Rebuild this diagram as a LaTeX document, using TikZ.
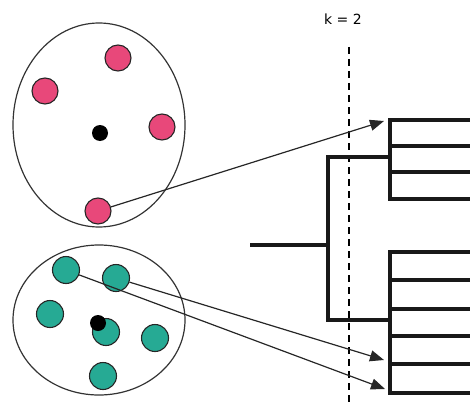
\documentclass[tikz,border=0pt]{standalone}
\usepackage{fontspec}
\setsansfont{DejaVu Sans}
\usepackage{xcolor}
\usetikzlibrary{positioning, arrows.meta}
\definecolor{DotPink}{RGB}{232,72,122}
\definecolor{DotTeal}{RGB}{38,170,148}
\tikzset{
  cluster/.style={draw=black!80, line width=1.2pt},
  pdot/.style={circle, draw=black!85, line width=1.1pt, fill=DotPink, minimum size=26pt, inner sep=0pt},
  tdot/.style={pdot, fill=DotTeal, minimum size=27pt},
  cdot/.style={circle, fill=black, minimum size=16pt, inner sep=0pt},
  maparr/.style={-{Triangle[length=14pt,width=11pt]}, line width=1.2pt, black!85},
  dendro/.style={line width=4pt, black!90, line cap=rect},
  cutline/.style={line width=2.5pt, dash pattern=on 7pt off 5pt},
}

\begin{document}
\begin{tikzpicture}[x=1pt, y=-1pt]
  \useasboundingbox (0,0) rectangle (470,401);
  % clusters
  \draw[cluster] (99,125) ellipse [x radius=86, y radius=102];
  \draw[cluster] (99,320) ellipse [x radius=86, y radius=75];
  \foreach \p [count=\i] in {(118,58),(45,91),(162,127),(98,211)}
    {\node[pdot] (p\i) at \p {};}
  \foreach \p [count=\i] in {(66,270),(116,278),(50,314),(106,332),(155,338),(103,376)}
    {\node[tdot] (t\i) at \p {};}
  \node[cdot] (c1) at (100,133) {};
  \node[cdot] (c2) at (98,323) {};
  % cut line
  \node[font=\sffamily\fontsize{14}{16}\selectfont] (klabel) at (343,19) {k = 2};
  \coordinate (cuttop) at (349,47);
  \coordinate (cutbot) at (349,405);
  \draw[cutline] (cuttop) -- (cutbot);
  % dendrogram
  \coordinate (root) at (252,245);
  \coordinate (j0) at (328,245);
  \coordinate (j1) at (328,157);
  \coordinate (j2) at (328,320);
  \coordinate (g1) at (390,157);
  \coordinate (g2) at (390,320);
  \draw[dendro] (root) -- (j0);
  \draw[dendro] (j1) -- (j2);
  \draw[dendro] (j1) -- (g1);
  \draw[dendro] (j2) -- (g2);
  \foreach \y [count=\i] in {120,146,172,199}
    {\coordinate (la\i) at (390,\y); \draw[dendro] (la\i) -- (474,\y);}
  \draw[dendro] (la1) -- (la4);
  \foreach \y [count=\i] in {252,280,309,336,364,393}
    {\coordinate (lb\i) at (390,\y); \draw[dendro] (lb\i) -- (474,\y);}
  \draw[dendro] (lb1) -- (lb6);
  % mapping arrows
  \coordinate (a1) at (384,121);
  \coordinate (a2) at (384,360);
  \coordinate (a3) at (385,389);
  \draw[maparr] (p4) -- (a1);
  \draw[maparr] (t2) -- (a2);
  \draw[maparr] (t1) -- (a3);
\end{tikzpicture}
\end{document}
